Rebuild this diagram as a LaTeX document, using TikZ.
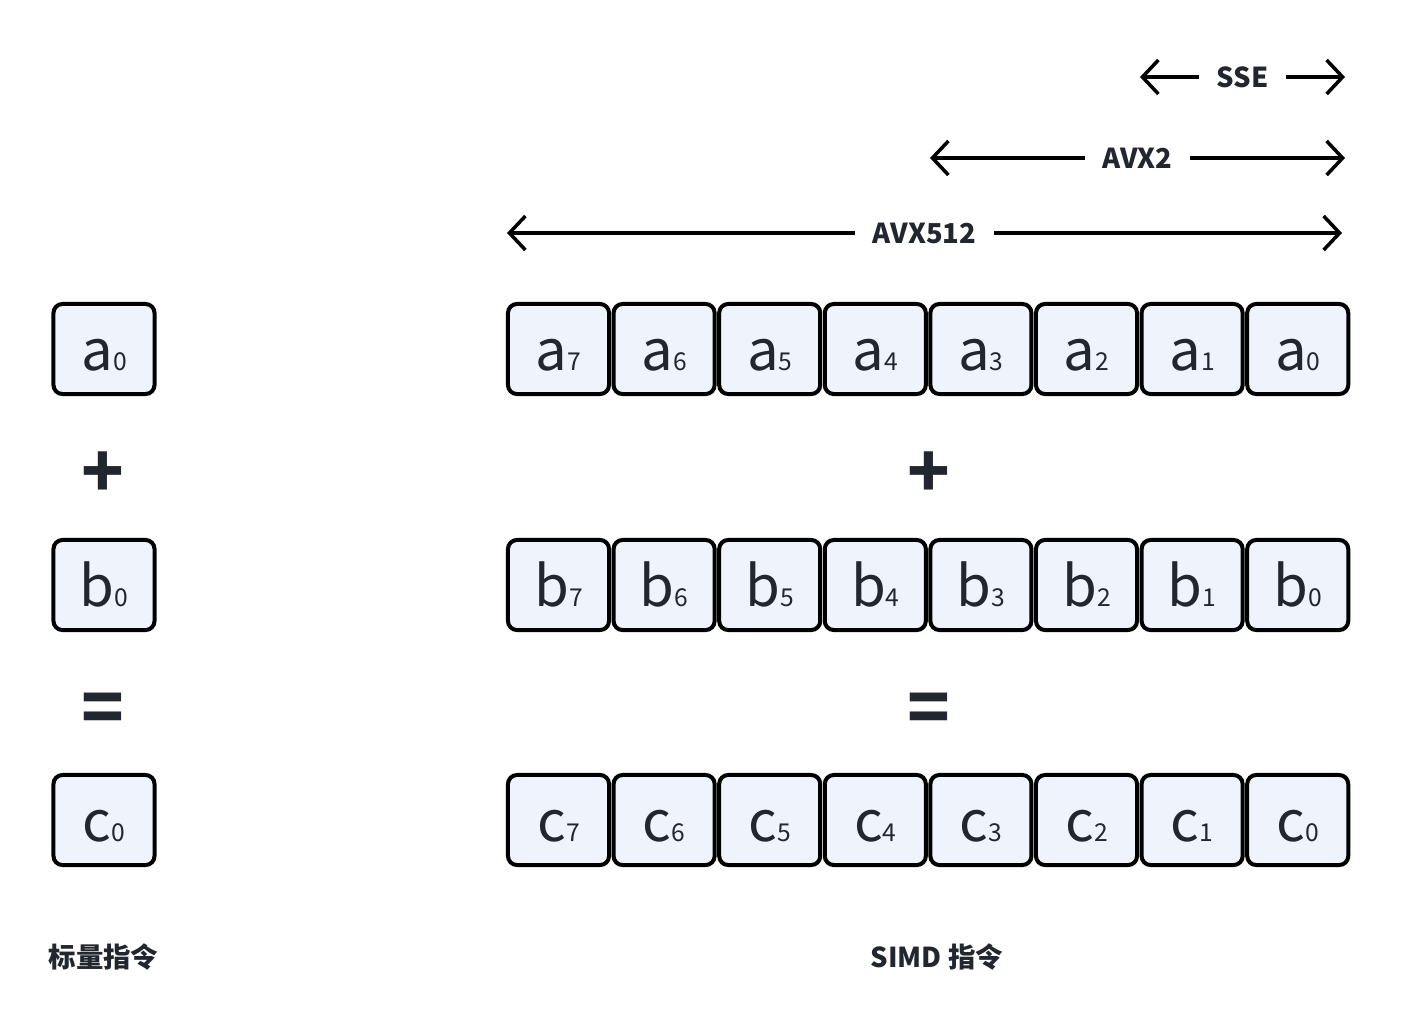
\documentclass[tikz,border=0pt]{standalone}
\usepackage{fontspec}
\setmainfont{Noto Sans CJK SC}
\usetikzlibrary{arrows.meta}

\definecolor{inkdark}{RGB}{34,38,46}
\definecolor{cellfill}{RGB}{239,243,252}

\newcommand{\cellv}[2]{\raisebox{-0.21cm}[0pt][0pt]{{\fontsize{16}{16}\selectfont #1}{\fontsize{7}{7}\selectfont #2}}}

\tikzset{
  cellbox/.style={draw=black,fill=cellfill,line width=0.04cm,rounded corners=0.09cm,
    minimum width=1.01cm,minimum height=0.9cm,inner sep=0pt,text=inkdark},
  opsign/.style={text=inkdark,font=\fontsize{20}{20}\selectfont\bfseries},
  widthline/.style={line width=0.035cm,{Straight Barb[length=0.16cm,width=0.34cm]}-{Straight Barb[length=0.16cm,width=0.34cm]}},
  widthlabel/.style={fill=white,inner xsep=0.18cm,text=inkdark,font=\fontsize{7.8}{7.8}\selectfont\bfseries},
  caption/.style={inner sep=0pt,text=inkdark,font=\fontsize{7.8}{7.8}\selectfont\bfseries}
}

\begin{document}
\begin{tikzpicture}[x=0.01cm,y=-0.01cm]

        \useasboundingbox (0,0) rectangle (1410,1024);

        % scalar column
        \begin{scope}[every node/.style={cellbox}]
          \node (sa) at (104,349) {\cellv{a}{0}};
          \node (sb) at (104,585) {\cellv{b}{0}};
          \node (sc) at (104,820) {\cellv{c}{0}};
        \end{scope}

        % SIMD rows
        \begin{scope}[every node/.style={cellbox}]
          \node (a7) at (558.5,349) {\cellv{a}{7}};
          \node (a6) at (664.1,349) {\cellv{a}{6}};
          \node (a5) at (769.7,349) {\cellv{a}{5}};
          \node (a4) at (875.3,349) {\cellv{a}{4}};
          \node (a3) at (980.9,349) {\cellv{a}{3}};
          \node (a2) at (1086.5,349) {\cellv{a}{2}};
          \node (a1) at (1192.1,349) {\cellv{a}{1}};
          \node (a0) at (1297.7,349) {\cellv{a}{0}};

          \node (b7) at (558.5,585) {\cellv{b}{7}};
          \node (b6) at (664.1,585) {\cellv{b}{6}};
          \node (b5) at (769.7,585) {\cellv{b}{5}};
          \node (b4) at (875.3,585) {\cellv{b}{4}};
          \node (b3) at (980.9,585) {\cellv{b}{3}};
          \node (b2) at (1086.5,585) {\cellv{b}{2}};
          \node (b1) at (1192.1,585) {\cellv{b}{1}};
          \node (b0) at (1297.7,585) {\cellv{b}{0}};

          \node (c7) at (558.5,820) {\cellv{c}{7}};
          \node (c6) at (664.1,820) {\cellv{c}{6}};
          \node (c5) at (769.7,820) {\cellv{c}{5}};
          \node (c4) at (875.3,820) {\cellv{c}{4}};
          \node (c3) at (980.9,820) {\cellv{c}{3}};
          \node (c2) at (1086.5,820) {\cellv{c}{2}};
          \node (c1) at (1192.1,820) {\cellv{c}{1}};
          \node (c0) at (1297.7,820) {\cellv{c}{0}};
        \end{scope}

        % operators
        \begin{scope}[every node/.style={opsign}]
          \node (splus) at (103,475) {+};
          \node (seq)   at (103,713) {=};
          \node (vplus) at (929,475) {+};
          \node (veq)   at (929,713) {=};
        \end{scope}

        % register widths
        \coordinate (sse-l) at (1140,77);
        \coordinate (sse-r) at (1345,77);
        \coordinate (avx2-l) at (930,158);
        \coordinate (avx2-r) at (1345,158);
        \coordinate (avx512-l) at (507,233);
        \coordinate (avx512-r) at (1342,233);

        \draw[widthline] (sse-l) -- (sse-r) node[widthlabel,pos=0.5] (sse) {SSE};
        \draw[widthline] (avx2-l) -- (avx2-r) node[widthlabel,pos=0.5] (avx2) {AVX2};
        \draw[widthline] (avx512-l) -- (avx512-r) node[widthlabel,pos=0.5] (avx512) {AVX512};

        % captions
        \node[caption,anchor=west] (scalar) at (48,957) {标量指令};
        \node[caption,anchor=west] (simd) at (870,957) {SIMD 指令};

      \end{tikzpicture}
\end{document}
